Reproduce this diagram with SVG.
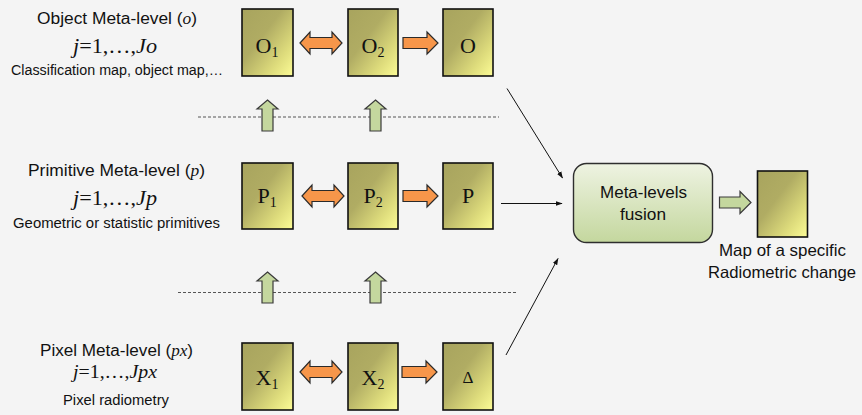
<svg xmlns="http://www.w3.org/2000/svg" xmlns:xlink="http://www.w3.org/1999/xlink" width="862" height="415" viewBox="0 0 862 415">
  <defs>
    <linearGradient id="boxFill" x1="0" y1="0" x2="1" y2="1">
      <stop offset="0" stop-color="#a8a45e"/>
      <stop offset="0.4" stop-color="#b0ac63"/>
      <stop offset="0.75" stop-color="#dedc7c"/>
      <stop offset="1" stop-color="#fcfc96"/>
    </linearGradient>
    <linearGradient id="fusionFill" x1="0" y1="0" x2="0" y2="1">
      <stop offset="0" stop-color="#eef3e2"/>
      <stop offset="1" stop-color="#c4d79e"/>
    </linearGradient>
    <marker id="tip" viewBox="0 0 10 10" refX="9" refY="5" markerWidth="7" markerHeight="7" orient="auto">
      <path d="M0,1.5 L10,5 L0,8.5 z" fill="#111"/>
    </marker>
    <!-- reusable arrow shapes, local origin at left/top -->
    <path id="dbl" d="M0,0 L10,-11 L10,-5.5 L32,-5.5 L32,-11 L42,0 L32,11 L32,5.5 L10,5.5 L10,11 z"/>
    <path id="fwd" d="M0,-5.5 L24,-5.5 L24,-11 L35,0 L24,11 L24,5.5 L0,5.5 z"/>
    <path id="up" d="M10.5,0 L21,9 L16,9 L16,31 L5,31 L5,9 L0,9 z"/>
  </defs>
  <style>
    .bg { fill: #f4f4f4; }
    .box { fill: url(#boxFill); stroke: #111; stroke-width: 1.6; }
    .orange { fill: #f7964a; stroke: #2a2a2a; stroke-width: 1.2; }
    .green { fill: #c4d79e; stroke: #3a3a3a; stroke-width: 1.2; }
    .fusion { fill: url(#fusionFill); stroke: #2e2e2e; stroke-width: 1.4; }
    .dash { stroke: #555; stroke-width: 1; stroke-dasharray: 3 2; fill: none; }
    .link { stroke: #111; stroke-width: 1; fill: none; marker-end: url(#tip); }
    .sans { font-family: "Liberation Sans", Arial, sans-serif; fill: #111; }
    .serif { font-family: "Liberation Serif", "Times New Roman", serif; fill: #111; }
    .head { font-size: 16px; }
    .idx { font-size: 21px; }
    .note { font-size: 14px; }
    .lbl { font-size: 22px; }
    .sub { font-size: 14px; }
  </style>

  <rect class="bg" x="0" y="0" width="862" height="415"/>

  <!-- level captions -->
  <g id="caption-object">
    <text class="sans head" x="37" y="24" textLength="160" lengthAdjust="spacingAndGlyphs">Object Meta-level (<tspan class="serif" font-style="italic">o</tspan>)</text>
    <text class="serif idx" x="73" y="53" textLength="84" lengthAdjust="spacingAndGlyphs"><tspan font-style="italic">j</tspan>=1,…,<tspan font-style="italic">Jo</tspan></text>
    <text class="sans note" x="11" y="75" textLength="212" lengthAdjust="spacingAndGlyphs">Classification map, object map,…</text>
  </g>
  <g id="caption-primitive">
    <text class="sans head" x="28" y="176" textLength="177" lengthAdjust="spacingAndGlyphs">Primitive Meta-level (<tspan class="serif" font-style="italic">p</tspan>)</text>
    <text class="serif idx" x="73" y="205" textLength="84" lengthAdjust="spacingAndGlyphs"><tspan font-style="italic">j</tspan>=1,…,<tspan font-style="italic">Jp</tspan></text>
    <text class="sans note" x="13" y="228" textLength="207" lengthAdjust="spacingAndGlyphs">Geometric or statistic primitives</text>
  </g>
  <g id="caption-pixel">
    <text class="sans head" x="40" y="356" textLength="153" lengthAdjust="spacingAndGlyphs">Pixel Meta-level (<tspan class="serif" font-style="italic">px</tspan>)</text>
    <text class="serif" font-size="18" x="73" y="378" textLength="84" lengthAdjust="spacingAndGlyphs"><tspan font-style="italic">j</tspan>=1,…,<tspan font-style="italic">Jpx</tspan></text>
    <text class="sans note" x="63" y="405" textLength="106" lengthAdjust="spacingAndGlyphs">Pixel radiometry</text>
  </g>

  <!-- dashed level separators -->
  <g id="separators">
    <line class="dash" x1="198" y1="117" x2="499" y2="117"/>
    <line class="dash" x1="178" y1="292.5" x2="517" y2="292.5"/>
  </g>

  <!-- object row -->
  <g id="node-O1">
    <rect class="box" x="242" y="9" width="51" height="67"/>
    <text class="serif lbl" x="267" y="53" text-anchor="middle">O<tspan class="sub" dy="4">1</tspan></text>
  </g>
  <g id="node-O2">
    <rect class="box" x="348" y="9" width="50" height="67"/>
    <text class="serif lbl" x="373" y="53" text-anchor="middle">O<tspan class="sub" dy="4">2</tspan></text>
  </g>
  <g id="node-O">
    <rect class="box" x="443" y="9" width="50" height="67"/>
    <text class="serif lbl" x="468" y="53" text-anchor="middle">O</text>
  </g>

  <!-- primitive row -->
  <g id="node-P1">
    <rect class="box" x="242" y="163" width="51" height="66"/>
    <text class="serif lbl" x="267" y="203" text-anchor="middle">P<tspan class="sub" dy="4">1</tspan></text>
  </g>
  <g id="node-P2">
    <rect class="box" x="348" y="163" width="50" height="66"/>
    <text class="serif lbl" x="373" y="203" text-anchor="middle">P<tspan class="sub" dy="4">2</tspan></text>
  </g>
  <g id="node-P">
    <rect class="box" x="443" y="163" width="50" height="66"/>
    <text class="serif lbl" x="468" y="203" text-anchor="middle">P</text>
  </g>

  <!-- pixel row -->
  <g id="node-X1">
    <rect class="box" x="242" y="343" width="51" height="67"/>
    <text class="serif lbl" x="267" y="385" text-anchor="middle">X<tspan class="sub" dy="4">1</tspan></text>
  </g>
  <g id="node-X2">
    <rect class="box" x="348" y="343" width="50" height="67"/>
    <text class="serif lbl" x="373" y="385" text-anchor="middle">X<tspan class="sub" dy="4">2</tspan></text>
  </g>
  <g id="node-D">
    <rect class="box" x="443" y="343" width="50" height="67"/>
    <text class="serif" font-size="17" x="468" y="383" text-anchor="middle">Δ</text>
  </g>

  <!-- fusion and result -->
  <g id="node-fusion">
    <rect class="fusion" x="573.5" y="163.5" width="139" height="79" rx="13" ry="13"/>
    <text class="sans" font-size="17" x="600" y="198" textLength="87" lengthAdjust="spacingAndGlyphs">Meta-levels</text>
    <text class="sans" font-size="17" x="620" y="220" textLength="46" lengthAdjust="spacingAndGlyphs">fusion</text>
  </g>
  <g id="node-result">
    <rect class="box" x="757.5" y="171" width="50" height="66"/>
    <text class="sans" font-size="16.5" x="719" y="256" textLength="127" lengthAdjust="spacingAndGlyphs">Map of a specific</text>
    <text class="sans" font-size="16.5" x="708" y="278" textLength="148" lengthAdjust="spacingAndGlyphs">Radiometric change</text>
  </g>

  <!-- connectors -->
  <g id="connectors">
    <use xlink:href="#dbl" class="orange" x="300" y="43"/>
    <use xlink:href="#fwd" class="orange" x="403" y="43"/>
    <use xlink:href="#dbl" class="orange" x="302" y="196"/>
    <use xlink:href="#fwd" class="orange" x="403" y="196"/>
    <use xlink:href="#dbl" class="orange" x="300" y="372"/>
    <use xlink:href="#fwd" class="orange" x="402" y="372"/>

    <use xlink:href="#up" class="green" x="257" y="100"/>
    <use xlink:href="#up" class="green" x="365" y="100"/>
    <use xlink:href="#up" class="green" x="257" y="272"/>
    <use xlink:href="#up" class="green" x="365" y="272"/>

    <path class="green" d="M719.5,197 L740,197 L740,191.5 L751,202.5 L740,213.5 L740,208 L719.5,208 z"/>

    <line class="link" x1="507" y1="88.5" x2="562.5" y2="178"/>
    <line class="link" x1="501" y1="203.5" x2="562" y2="203.5"/>
    <line class="link" x1="506" y1="355" x2="558" y2="258.5"/>
  </g>
</svg>
